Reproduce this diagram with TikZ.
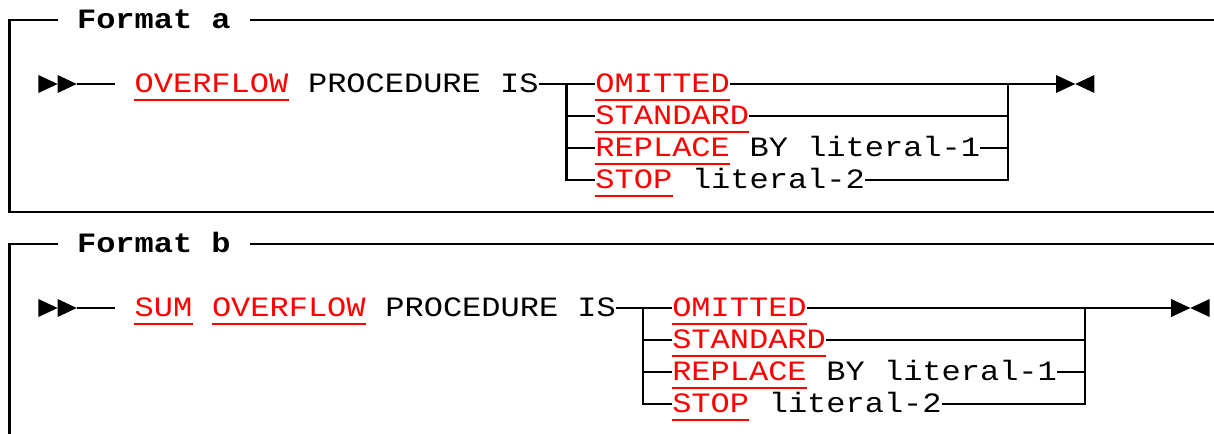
\documentclass[tikz,border=0pt]{standalone}
\usepackage{fontspec}
\newfontfamily\railfont[FakeStretch=1.143]{Liberation Mono}
\usetikzlibrary{positioning}

\begin{document}
\begin{tikzpicture}[x=0.75pt, y=-0.75pt, font=\railfont\fontsize{21pt}{32pt}\selectfont,
  word/.style={inner sep=0pt, anchor=west, text height=16pt, text depth=4pt},
  kw/.style={word, text=red},
  hdr/.style={word, font=\railfont\bfseries\fontsize{21pt}{32pt}\selectfont},
  rail/.style={line width=1.7pt},
  uline/.style={red, line width=1.6pt}]
% units are px: one character cell is 19.2 wide (14.4pt), rows every 32, y grows downwards
\useasboundingbox (0,0) rectangle (1214,433);

% --- format a ---
\node[hdr] (fmta) at (76.8,20) {Format a};
\draw[rail] ([xshift=-14.4pt]fmta.west) -- (9.6,20) -- (9.6,212) -- (1220,212);
\draw[rail] ([xshift=14.4pt]fmta.east) -- (1220,20);
\coordinate (ina) at (76.8,84);
\coordinate (ga) at (115.2,84);
\coordinate (ja) at (566.4,84);
\coordinate (ka) at (1008,84);
\coordinate (outa) at (1056,84);
\node[kw] (ovfa) at (134.4,84) {OVERFLOW};
\node[word, right=14.4pt of ovfa] (proca) {PROCEDURE IS};
\node[kw] (omita) at (595.2,84) {OMITTED};
\node[kw] (stda) at (595.2,116) {STANDARD};
\node[kw] (repa) at (595.2,148) {REPLACE};
\node[word, right=14.4pt of repa] (lit1a) {BY literal-1};
\node[kw] (stopa) at (595.2,180) {STOP};
\node[word, right=14.4pt of stopa] (lit2a) {literal-2};
\draw[rail] (ina) -- (ga);
\draw[rail] (proca.east) -- (omita.west);
\draw[rail] (ja) |- (stopa.west);
\draw[rail] (ja |- stda) -- (stda.west);
\draw[rail] (ja |- repa) -- (repa.west);
\draw[rail] (omita.east) -- (outa);
\draw[rail] (ka) |- (lit2a.east);
\draw[rail] (stda.east) -- (stda -| ka);
\draw[rail] (lit1a.east) -- (lit1a -| ka);

% --- format b ---
\node[hdr] (fmtb) at (76.8,244) {Format b};
\draw[rail] ([xshift=-14.4pt]fmtb.west) -- (9.6,244) -- (9.6,440);
\draw[rail] ([xshift=14.4pt]fmtb.east) -- (1220,244);
\coordinate (inb) at (76.8,308);
\coordinate (gb) at (115.2,308);
\coordinate (jb) at (643.2,308);
\coordinate (kb) at (1084.8,308);
\coordinate (outb) at (1171.2,308);
\node[kw] (sumb) at (134.4,308) {SUM};
\node[kw, right=14.4pt of sumb] (ovfb) {OVERFLOW};
\node[word, right=14.4pt of ovfb] (procb) {PROCEDURE IS};
\node[kw] (omitb) at (672,308) {OMITTED};
\node[kw] (stdb) at (672,340) {STANDARD};
\node[kw] (repb) at (672,372) {REPLACE};
\node[word, right=14.4pt of repb] (lit1b) {BY literal-1};
\node[kw] (stopb) at (672,404) {STOP};
\node[word, right=14.4pt of stopb] (lit2b) {literal-2};
\draw[rail] (inb) -- (gb);
\draw[rail] (procb.east) -- (omitb.west);
\draw[rail] (jb) |- (stopb.west);
\draw[rail] (jb |- stdb) -- (stdb.west);
\draw[rail] (jb |- repb) -- (repb.west);
\draw[rail] (omitb.east) -- (outb);
\draw[rail] (kb) |- (lit2b.east);
\draw[rail] (stdb.east) -- (stdb -| kb);
\draw[rail] (lit1b.east) -- (lit1b -| kb);

% start and end marks
\foreach \x/\y in {38.4/84, 57.6/84, 1056/84, 38.4/308, 57.6/308, 1171.2/308}
  \fill (\x,\y-9) -- (\x+19.2,\y) -- (\x,\y+9) -- cycle;
\foreach \x/\y in {1094.4/84, 1209.6/308}
  \fill (\x,\y-9) -- (\x-19.2,\y) -- (\x,\y+9) -- cycle;

% keywords are underlined
\foreach \n in {ovfa, omita, stda, repa, stopa, sumb, ovfb, omitb, stdb, repb, stopb}
  \draw[uline] ([yshift=-2pt]\n.south west) -- ([yshift=-2pt]\n.south east);
\end{tikzpicture}
\end{document}
